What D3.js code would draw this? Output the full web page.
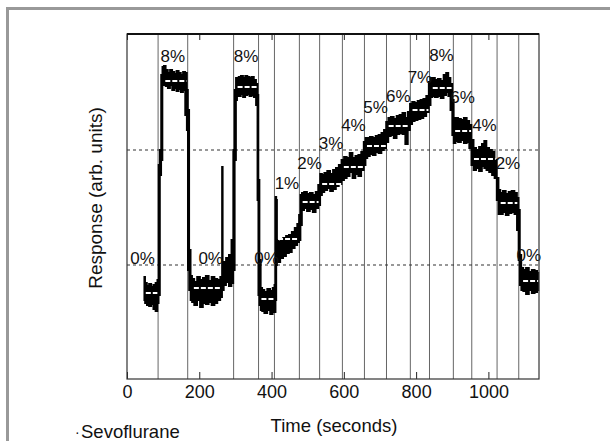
<!DOCTYPE html>
<html>
<head>
<meta charset="utf-8">
<script src="https://cdn.jsdelivr.net/npm/d3@7"></script>
<style>
  body { margin: 0; background: white; }
  text { font-family: "Liberation Sans", Arial, sans-serif; fill: #111; }
</style>
</head>
<body>
<svg width="610" height="441"></svg>
<script>
var svg = d3.select("svg");

// switch times between gas concentrations (seconds)
var bounds = [86, 168, 295, 364, 408, 477, 533, 596, 657, 718, 784, 837, 903, 954, 1024, 1084];
var conc = ["0%", "8%", "0%", "8%", "0%", "1%", "2%", "3%", "4%", "5%", "6%", "7%", "8%", "6%", "4%", "2%", "0%"];
// where each concentration label sits (arb. units)
var labelAt = [121, 323, 121, 323, 121, 196, 216, 236, 254, 272, 283, 302, 324, 282, 254, 216, 124];

// mean response of each step: start, end, level
var meanStart = [52, 106, 185, 306, 372, 418, 486, 540, 600, 664, 724, 790, 846, 908, 960, 1034, 1096];
var meanEnd   = [84, 165, 262, 360, 406, 474, 530, 594, 655, 716, 782, 834, 898, 952, 1020, 1080, 1138];
var meanLevel = [86, 298, 91, 292, 80, 140, 177, 195, 212, 233, 253, 269, 291, 248, 220, 176, 98];

// reference levels (dotted)
var refLevels = [114, 229];

// recorded trace: time, upper and lower edge of the noisy band
var traceT = [48, 52, 58, 64, 70, 76, 82, 86, 89, 93, 96, 100,
  104, 110, 116, 122, 128, 134, 140, 146, 152, 158, 164, 167, 170, 174, 178,
  182, 190, 198, 206, 214, 222, 230, 238, 246, 254, 262, 264, 265.5, 270, 278, 286, 292, 296, 300, 303,
  306, 312, 318, 324, 330, 336, 342, 348, 354, 360, 362, 365, 368, 372,
  376, 384, 392, 400, 406, 410, 412, 414, 416,
  420, 428, 436, 444, 452, 460, 468, 474, 478, 482,
  486, 494, 502, 510, 518, 526, 532, 537,
  542, 550, 558, 566, 574, 582, 590, 597,
  604, 612, 620, 628, 636, 644, 652, 658, 662,
  668, 676, 684, 692, 700, 708, 714, 720,
  726, 734, 742, 750, 758, 766, 774, 780, 786,
  792, 800, 808, 816, 824, 832, 838, 842,
  848, 856, 864, 872, 880, 886, 892, 898, 902, 906,
  912, 920, 928, 936, 944, 950, 956,
  962, 970, 978, 986, 991, 998, 1006, 1014, 1020, 1026, 1030,
  1036, 1044, 1052, 1060, 1068, 1076, 1082, 1085, 1089, 1093,
  1100, 1108, 1116, 1124, 1132, 1138];
var traceHi = [102, 96, 93, 95, 92, 94, 96, 99, 214, 229, 304, 312,
  313, 309, 306, 309, 307, 305, 308, 306, 304, 307, 306, 289, 269, 129, 103,
  100, 97, 102, 99, 101, 103, 98, 102, 100, 99, 102, 212, 114, 117, 121, 124, 139, 229, 289, 301,
  300, 302, 303, 301, 303, 302, 301, 302, 299, 295, 284, 199, 119, 91,
  89, 87, 90, 88, 91, 94, 182, 179, 139,
  137, 139, 141, 143, 144, 147, 151, 155, 164, 184,
  186, 187, 185, 186, 184, 187, 194, 205,
  204, 206, 208, 205, 209, 211, 214, 219,
  222, 221, 226, 221, 223, 224, 227, 237, 241,
  241, 242, 241, 243, 244, 246, 249, 257,
  261, 262, 260, 263, 264, 266, 261, 267, 275,
  277, 276, 278, 279, 280, 283, 297, 301,
  301, 299, 300, 298, 304, 306, 301, 295, 279, 261,
  261, 260, 259, 261, 258, 254, 239,
  231, 229, 232, 235, 238, 231, 229, 227, 219, 201, 189,
  186, 188, 185, 187, 188, 186, 181, 169, 124, 111,
  109, 111, 107, 109, 108, 106];
var traceLo = [79, 76, 74, 73, 75, 70, 68, 76, 84, 204, 219, 294,
  295, 293, 291, 294, 289, 291, 288, 290, 287, 289, 264, 249, 109, 89, 79,
  77, 74, 79, 72, 76, 75, 77, 74, 76, 79, 82, 89, 89, 94, 97, 93, 96, 109, 219, 279,
  284, 283, 285, 282, 284, 285, 283, 284, 282, 274, 179, 84, 74, 69,
  68, 66, 69, 65, 68, 67, 79, 114, 117,
  117, 121, 123, 126, 127, 131, 134, 137, 139, 154,
  169, 171, 168, 170, 167, 171, 174, 184,
  187, 189, 191, 188, 190, 193, 195, 199,
  201, 203, 207, 201, 205, 203, 209, 214, 221,
  223, 225, 224, 227, 226, 229, 231, 237,
  243, 244, 241, 245, 246, 245, 235, 249, 255,
  258, 259, 260, 261, 263, 267, 274, 282,
  283, 282, 283, 281, 284, 287, 283, 269, 244, 236,
  238, 237, 239, 236, 237, 231, 214,
  209, 211, 208, 213, 211, 209, 207, 204, 201, 179, 165,
  165, 167, 164, 166, 167, 165, 149, 119, 94, 89,
  88, 85, 89, 86, 87, 89];

var xTicks = [0, 200, 400, 600, 800, 1000];

var pLeft = 127, pRight = 539, pTop = 34, pBottom = 379;

var x = d3.scaleLinear().domain([0, 1140]).range([pLeft, pRight]);
var y = d3.scaleLinear().domain([0, 345]).range([pBottom, pTop]);

// outer gray frame
svg.append("rect").attr("x", 6).attr("y", 7).attr("width", 3).attr("height", 434).attr("fill", "#999");
svg.append("rect").attr("x", 6).attr("y", 7).attr("width", 604).attr("height", 3).attr("fill", "#999");

// step boundaries
svg.selectAll(".bound")
  .data(bounds)
.enter().append("line")
  .attr("class", "bound")
  .attr("x1", function(d){ return x(d); })
  .attr("x2", function(d){ return x(d); })
  .attr("y1", pTop)
  .attr("y2", pBottom)
  .attr("stroke", "#666")
  .attr("stroke-width", 1);

// dotted reference levels
svg.selectAll(".ref")
  .data(refLevels)
.enter().append("line")
  .attr("class", "ref")
  .attr("x1", pLeft)
  .attr("x2", pRight)
  .attr("y1", function(d){ return y(d); })
  .attr("y2", function(d){ return y(d); })
  .attr("stroke", "#333")
  .attr("stroke-width", 1.2)
  .attr("stroke-dasharray", "3,3");

// trace band
var pts = traceT.map(function(t, i){ return {t: t, hi: traceHi[i], lo: traceLo[i]}; });

var area = d3.area()
  .x(function(d){ return x(d.t); })
  .y0(function(d){ return y(d.lo); })
  .y1(function(d){ return y(d.hi); })
  .curve(d3.curveStep);

svg.append("path")
  .datum(pts)
  .attr("d", area)
  .attr("fill", "#000")
  .attr("stroke", "#000")
  .attr("stroke-width", 1.8)
  .attr("stroke-linejoin", "miter");

// white dashed mean levels
svg.selectAll(".mean")
  .data(meanLevel)
.enter().append("line")
  .attr("class", "mean")
  .attr("x1", function(d, i){ return x(meanStart[i]); })
  .attr("x2", function(d, i){ return x(meanEnd[i]); })
  .attr("y1", function(d){ return y(d); })
  .attr("y2", function(d){ return y(d); })
  .attr("stroke", "white")
  .attr("stroke-width", 2)
  .attr("stroke-dasharray", "5,2");

// concentration labels
var edges = [0].concat(bounds, [1140]);
svg.selectAll(".conc")
  .data(conc)
.enter().append("text")
  .attr("class", "conc")
  .attr("x", function(d, i){ return x((edges[i] + edges[i + 1]) / 2); })
  .attr("y", function(d, i){ return y(labelAt[i]); })
  .attr("dy", "0.36em")
  .attr("text-anchor", "middle")
  .style("font-size", "17px")
  .text(function(d){ return d; });

// axes, ticks pointing inward
var xAxis = svg.append("g")
  .attr("transform", "translate(0," + pBottom + ")")
  .call(d3.axisBottom(x).tickValues(xTicks).tickSize(-7).tickPadding(6).tickFormat(d3.format("d")));
xAxis.select(".domain").remove();
xAxis.selectAll("line").attr("stroke", "#222");
xAxis.selectAll("text").style("font-size", "18px").style("font-family", "Liberation Sans, Arial, sans-serif").attr("fill", "#111");

var xTop = svg.append("g")
  .attr("transform", "translate(0," + pTop + ")")
  .call(d3.axisTop(x).tickValues(xTicks).tickSize(-6).tickFormat(""));
xTop.select(".domain").remove();
xTop.selectAll("line").attr("stroke", "#222");

// plot frame
svg.append("rect")
  .attr("x", pLeft).attr("y", pTop)
  .attr("width", pRight - pLeft).attr("height", pBottom - pTop)
  .attr("fill", "none")
  .attr("stroke", "#333")
  .attr("stroke-width", 1.2);
svg.append("line")
  .attr("x1", pLeft).attr("x2", pRight).attr("y1", pTop).attr("y2", pTop)
  .attr("stroke", "#111").attr("stroke-width", 1.8);

// axis titles
svg.append("text")
  .attr("transform", "translate(95,198) rotate(-90)")
  .attr("text-anchor", "middle")
  .attr("dy", "0.35em")
  .style("font-size", "19px")
  .text("Response (arb. units)");

svg.append("text")
  .attr("x", 334).attr("y", 432)
  .attr("text-anchor", "middle")
  .style("font-size", "18.5px")
  .text("Time (seconds)");

svg.append("text")
  .attr("x", 75).attr("y", 437)
  .style("font-size", "14px")
  .text("·");
svg.append("text")
  .attr("x", 81).attr("y", 438)
  .style("font-size", "18.5px")
  .text("Sevoflurane");
</script>
</body>
</html>
